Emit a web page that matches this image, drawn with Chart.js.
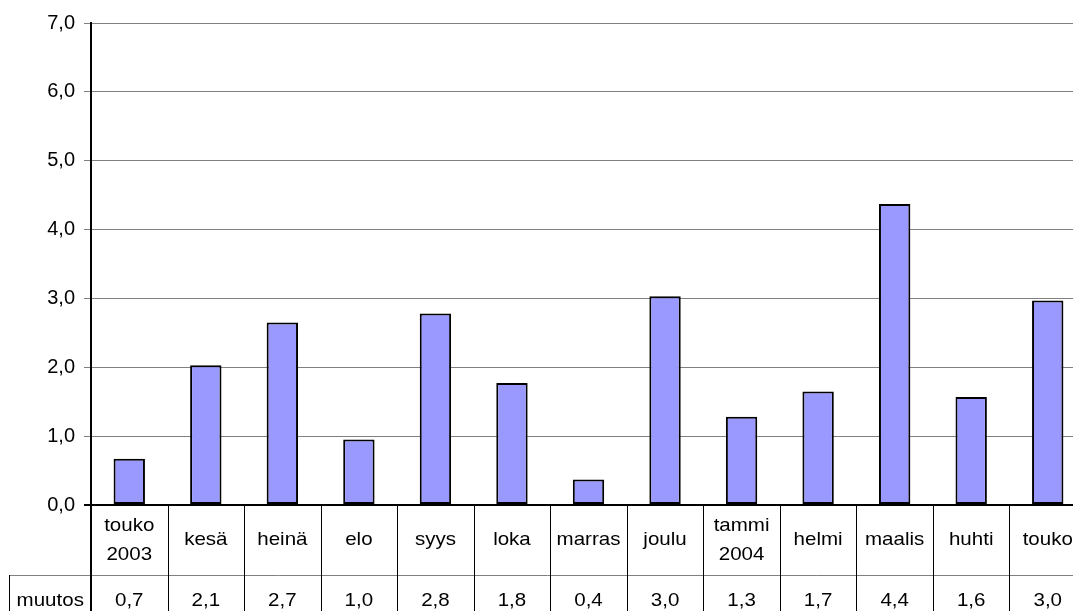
<!DOCTYPE html>
<html>
<head>
<meta charset="utf-8">
<script src="https://cdn.jsdelivr.net/npm/chart.js@4/dist/chart.umd.min.js"></script>
<style>
  html, body { margin: 0; padding: 0; background: #fff; overflow: hidden; }
  #wrap { width: 1086px; height: 611px; position: relative; }
</style>
</head>
<body>
<div id="wrap"><canvas id="chart"></canvas></div>
<script>
'use strict';

// categories (month names, Finnish)
const months = [['touko', '2003'], 'kesä', 'heinä', 'elo', 'syys', 'loka', 'marras',
                'joulu', ['tammi', '2004'], 'helmi', 'maalis', 'huhti', 'touko'];

// bar heights
const muutos = [0.67, 2.03, 2.65, 0.95, 2.78, 1.77, 0.37, 3.03, 1.28, 1.65, 4.37, 1.57, 2.97];

// values printed in the data table row
const muutosText = ['0,7', '2,1', '2,7', '1,0', '2,8', '1,8', '0,4', '3,0', '1,3', '1,7', '4,4', '1,6', '3,0'];

const rowName = 'muutos';

const yTicks = { min: 0, max: 7, step: 1 };

const FONT = '"Liberation Sans", Arial, sans-serif';
const STRETCH = 1.08;   // the original text is drawn a bit wide
const fmt = v => Number(v).toFixed(1).replace('.', ',');

// draw text centred at (cx, cy), stretched horizontally
function wideText(ctx, s, cx, cy) {
    ctx.save();
    ctx.translate(cx, cy);
    ctx.scale(STRETCH, 1);
    ctx.fillText(s, 0, 0);
    ctx.restore();
}

// ── data table under the plot ────────────────────────────
const dataTable = {
    id: 'dataTable',
    afterDraw(chart) {
        const ctx = chart.ctx;
        const x = chart.scales.x;
        const a = chart.chartArea;
        const n = months.length;
        const cw = x.width / n;
        const top = a.bottom;
        const mid = a.bottom + 70;
        const bot = chart.height;
        const headLeft = 9.5;

        ctx.save();
        ctx.lineWidth = 1;

        // horizontal line between label row and value row
        ctx.strokeStyle = '#808080';
        ctx.beginPath();
        ctx.moveTo(headLeft, mid + 0.5);
        ctx.lineTo(chart.width, mid + 0.5);
        ctx.stroke();

        // vertical separators
        ctx.strokeStyle = '#000';
        ctx.beginPath();
        ctx.moveTo(headLeft, mid);
        ctx.lineTo(headLeft, bot);
        for (let i = 1; i <= n; i++) {
            const px = Math.round(a.left + i * cw) + 0.5;
            ctx.moveTo(px, top);
            ctx.lineTo(px, bot);
        }
        ctx.stroke();

        // axis continues down through the table
        ctx.lineWidth = 2;
        ctx.beginPath();
        ctx.moveTo(a.left, top);
        ctx.lineTo(a.left, bot);
        ctx.stroke();

        // texts
        ctx.fillStyle = '#000';
        ctx.font = '19px ' + FONT;
        ctx.textAlign = 'center';
        ctx.textBaseline = 'middle';
        months.forEach((m, i) => {
            const cx = x.getPixelForValue(i);
            if (Array.isArray(m)) {
                wideText(ctx, m[0], cx, top + 21);
                wideText(ctx, m[1], cx, top + 50);
            } else {
                wideText(ctx, m, cx, top + 35);
            }
            wideText(ctx, muutosText[i], cx, mid + 26);
        });
        wideText(ctx, rowName, (headLeft + a.left) / 2, mid + 26);
        ctx.restore();
    }
};

new Chart(document.getElementById('chart'), {
    type: 'bar',
    data: {
        labels: months,
        datasets: [{
            label: rowName,
            data: muutos,
            backgroundColor: '#9999ff',
            borderColor: '#000',
            borderWidth: 2,
            borderSkipped: false,
            barPercentage: 0.41,
            categoryPercentage: 1,
        }]
    },
    options: {
        responsive: true,
        maintainAspectRatio: false,
        animation: false,
        layout: { padding: { top: 23, bottom: 106, left: 0, right: 0 } },
        plugins: { legend: { display: false }, tooltip: { enabled: false } },
        scales: {
            x: { display: false },
            y: {
                min: yTicks.min,
                max: yTicks.max,
                afterFit: s => { s.width = 91; },
                border: { color: '#000', width: 2 },
                grid: {
                    color: c => (c.tick && c.tick.value === 0) ? '#000' : '#808080',
                    lineWidth: c => (c.tick && c.tick.value === 0) ? 2 : 1,
                    tickLength: 7,
                },
                ticks: {
                    stepSize: yTicks.step,
                    padding: 9,
                    color: '#000',
                    font: { family: FONT, size: 20 },
                    callback: fmt,
                }
            }
        }
    },
    plugins: [dataTable]
});
</script>
</body>
</html>
